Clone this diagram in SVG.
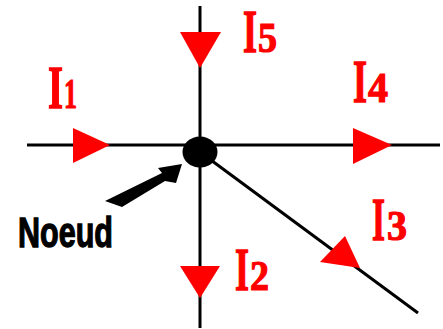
<svg xmlns="http://www.w3.org/2000/svg" width="443" height="329" viewBox="0 0 443 329">
<style>
.wire{stroke:#000;stroke-width:3;fill:none}
.arr{fill:#f00}
.lbl{font-family:"Liberation Serif",serif;font-weight:bold;font-size:62px;fill:#f00;stroke:#f00;stroke-width:1.5}
.sub{font-family:"Liberation Serif",serif;font-weight:bold;font-size:42px;fill:#f00;stroke:#f00;stroke-width:1.2}
.nd{font-family:"Liberation Sans",sans-serif;font-weight:bold;font-size:43px;fill:#000;stroke:#000;stroke-width:1.3}
</style>
<rect width="443" height="329" fill="#fff"/>
<g id="connectors">
<line class="wire" x1="27" y1="145" x2="440" y2="145"/>
<line class="wire" x1="200" y1="6" x2="200" y2="328"/>
<line class="wire" x1="200" y1="152" x2="418" y2="313"/>
</g>
<g id="node">
<ellipse cx="200" cy="152" rx="17.5" ry="15.5" fill="#000"/>
</g>
<g id="I1">
<polygon class="arr" points="73,128 73,163 110,145"/>
<text class="lbl" x="48" y="108" textLength="15" lengthAdjust="spacingAndGlyphs">I</text>
<text class="sub" x="64" y="108" textLength="13" lengthAdjust="spacingAndGlyphs">1</text>
</g>
<g id="I5">
<polygon class="arr" points="180,32 221,32 200,68"/>
<text class="lbl" x="243" y="52" textLength="14" lengthAdjust="spacingAndGlyphs">I</text>
<text class="sub" x="258" y="52" textLength="19" lengthAdjust="spacingAndGlyphs">5</text>
</g>
<g id="I4">
<polygon class="arr" points="353,128 353,164 392,145"/>
<text class="lbl" x="353" y="102" textLength="14" lengthAdjust="spacingAndGlyphs">I</text>
<text class="sub" x="368" y="102" textLength="20" lengthAdjust="spacingAndGlyphs">4</text>
</g>
<g id="I3">
<polygon class="arr" points="320,262 345,236 360,268"/>
<text class="lbl" x="372" y="240" textLength="13" lengthAdjust="spacingAndGlyphs">I</text>
<text class="sub" x="387" y="240" textLength="20" lengthAdjust="spacingAndGlyphs">3</text>
</g>
<g id="I2">
<polygon class="arr" points="180,266 220,266 200,298"/>
<text class="lbl" x="235" y="290" textLength="14" lengthAdjust="spacingAndGlyphs">I</text>
<text class="sub" x="250" y="290" textLength="19" lengthAdjust="spacingAndGlyphs">2</text>
</g>
<g id="noeud">
<polygon fill="#000" points="105,201 162,173 158,168 182,164 176,183 165,181 122,207"/>
<text class="nd" x="18" y="247" textLength="95" lengthAdjust="spacingAndGlyphs">Noeud</text>
</g>
</svg>
